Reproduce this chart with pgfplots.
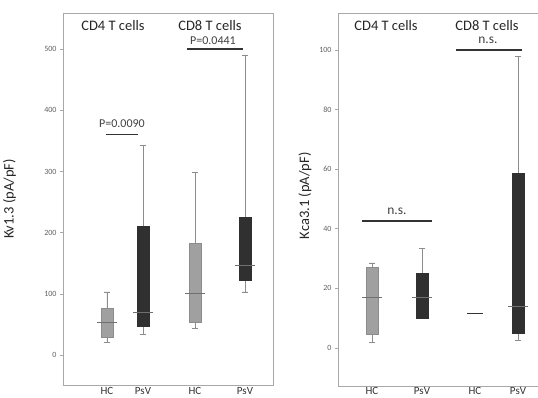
\documentclass[border=0pt]{standalone}
\usepackage{fontspec}
\setmainfont{Carlito}
\usepackage{pgfplots}
\pgfplotsset{compat=1.18}
\usepgfplotslibrary{statistics}
\definecolor{frame}{HTML}{A8A8A8}
\definecolor{hcfill}{HTML}{A0A0A0}
\definecolor{psfill}{HTML}{303030}
\definecolor{whisk}{HTML}{8C8C8C}
\definecolor{tickc}{HTML}{606060}
\tikzset{
  ttl/.style={font=\fontsize{14.5}{16}\selectfont, text=black!85},
  pval/.style={font=\fontsize{12}{13}\selectfont, text=black!75},
  nsl/.style={font=\fontsize{13.5}{14}\selectfont, text=black!75},
}
\pgfplotsset{
  panel/.style={
    scale only axis, anchor=south west,
    axis line style={frame, line width=0.9pt},
    ytick pos=left,
    tick style={frame, line width=0.6pt},
    major tick length=3pt,
    tick align=outside,
    yticklabel style={font=\fontsize{8}{9}\selectfont, text=tickc},
    xticklabel style={font=\fontsize{11}{12}\selectfont, text=black!80, inner sep=0pt},
    x tick style={draw=none},
    /pgf/number format/assume math mode=true,
    ylabel style={font=\fontsize{14.5}{16}\selectfont, text=black!85, anchor=center},
    clip=false,
    boxplot/draw direction=y,
    boxplot/box extend=12,
    boxplot/whisker extend=6,
  },
  hcbox/.style={fill=hcfill, draw=whisk, line width=0.6pt,
    boxplot/every whisker/.style={whisk, line width=0.8pt},
    boxplot/every median/.style={draw=none}},
  psbox/.style={fill=psfill, draw=psfill, line width=0.6pt,
    boxplot/every whisker/.style={whisk, line width=0.8pt},
    boxplot/every median/.style={draw=none}},
  medline/.style={draw=whisk!80!black, line width=0.9pt, mark=none},
  sigline/.style={draw=black!80, line width=1.2pt, mark=none},
}
\begin{document}
\begin{tikzpicture}[x=1pt,y=1pt]
% ---------- left panel ----------
\begin{axis}[panel, at={(63pt,13pt)}, width=210pt, height=372pt,
  xmin=0, xmax=210, ymin=-49, ymax=559,
  ytick={0,100,200,300,400,500},
  xtick={44,80,132,182}, xticklabels={HC,PsV,HC,PsV},
  xticklabel style={yshift=0.5pt},
  ylabel={Kv1.3 (pA/pF)},
  ylabel style={at={(axis description cs:-0.255,0.5)}, rotate=0},
]
\addplot+[hcbox, boxplot prepared={draw position=44, lower whisker=20, lower quartile=29, median=54, upper quartile=77, upper whisker=103}] coordinates {};
\addplot+[psbox, boxplot prepared={draw position=80, lower whisker=34, lower quartile=47, median=70, upper quartile=211, upper whisker=343}] coordinates {};
\addplot+[hcbox, boxplot prepared={draw position=132, lower whisker=44, lower quartile=53, median=100, upper quartile=183, upper whisker=298}] coordinates {};
\addplot+[psbox, boxplot prepared={draw position=182, lower whisker=103, lower quartile=122, median=147, upper quartile=225, upper whisker=489}] coordinates {};
\addplot[medline] coordinates {(34,54) (54,54)};
\addplot[medline] coordinates {(70,70) (90,70)};
\addplot[medline] coordinates {(122,100) (142,100)};
\addplot[medline] coordinates {(172,147) (192,147)};
\addplot[sigline] coordinates {(43,361) (75,361)};
\addplot[sigline] coordinates {(124,500) (180,500)};
\node[ttl] at (axis cs:50,538) {CD4 T cells};
\node[ttl] at (axis cs:147,538) {CD8 T cells};
\node[pval] at (axis cs:59,378) {P=0.0090};
\node[pval] at (axis cs:150,513) {P=0.0441};
\end{axis}
% ---------- right panel ----------
\begin{axis}[panel, at={(338pt,12pt)}, width=206pt, height=373pt,
  xmin=0, xmax=206, ymin=-12.8, ymax=112.4,
  ytick={0,20,40,60,80,100},
  xtick={34,84,137,180}, xticklabels={HC,PsV,HC,PsV},
  xticklabel style={yshift=1.5pt},
  ylabel={Kca3.1 (pA/pF)},
  ylabel style={at={(axis description cs:-0.16,0.51)}, rotate=0},
]
\addplot+[hcbox, boxplot prepared={draw position=34, lower whisker=1.7, lower quartile=4.4, median=16.8, upper quartile=27, upper whisker=28.5}] coordinates {};
\addplot+[psbox, boxplot prepared={draw position=84, lower whisker=10, lower quartile=10, median=16.8, upper quartile=25, upper whisker=33.5}] coordinates {};
\addplot+[psbox, boxplot prepared={draw position=180, lower whisker=2.4, lower quartile=5, median=13.8, upper quartile=58.7, upper whisker=97.7}] coordinates {};
\addplot[medline] coordinates {(24,16.8) (44,16.8)};
\addplot[medline] coordinates {(74,16.8) (94,16.8)};
\addplot[medline, draw=black!80, line width=1pt] coordinates {(129,11.7) (145,11.7)};
\addplot[medline] coordinates {(170,13.8) (190,13.8)};
\addplot[sigline] coordinates {(24,42.6) (94,42.6)};
\addplot[sigline] coordinates {(118,100) (184,100)};
\node[ttl] at (axis cs:48,108.2) {CD4 T cells};
\node[ttl] at (axis cs:149,108.2) {CD8 T cells};
\node[nsl] at (axis cs:59,45.8) {n.s.};
\node[nsl] at (axis cs:150,103.2) {n.s.};
\end{axis}
\pgfresetboundingbox
\useasboundingbox (0,0) rectangle (538,398);
\end{tikzpicture}
\end{document}
